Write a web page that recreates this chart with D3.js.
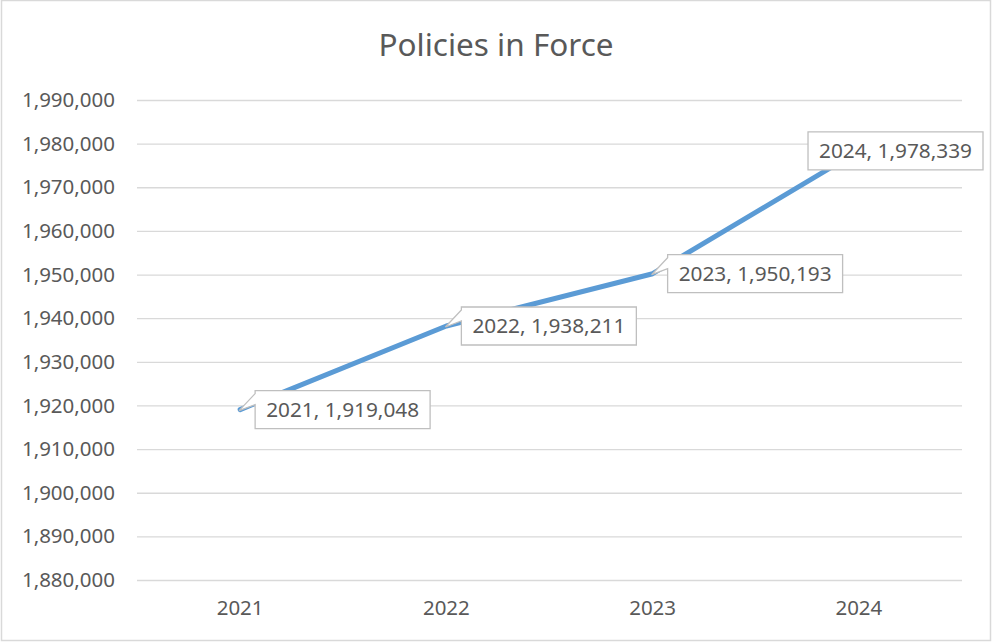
<!DOCTYPE html>
<html>
<head>
<meta charset="utf-8">
<script src="https://cdn.jsdelivr.net/npm/d3@7"></script>
<style>
  body { margin: 0; background: #fff; }
  text { font-family: "Noto Sans", "Open Sans", sans-serif; fill: #595959; }
</style>
</head>
<body>
<script>
let years = ["2021", "2022", "2023", "2024"];
let policies = [1919048, 1938211, 1950193, 1978339];
let yTicks = [1880000, 1890000, 1900000, 1910000, 1920000, 1930000,
              1940000, 1950000, 1960000, 1970000, 1980000, 1990000];

let width = 992,
    height = 642;

let svg = d3.select("body").append("svg")
    .attr("width", width)
    .attr("height", height);

// chart area border
svg.append("rect")
    .attr("x", 1.5).attr("y", 0.5)
    .attr("width", width - 3).attr("height", height - 2)
    .attr("fill", "#fff")
    .attr("stroke", "#d9d9d9")
    .attr("stroke-width", 1.5);

let xScale = d3.scaleBand()
    .domain(years)
    .range([137, 962]);

let yScale = d3.scaleLinear()
    .domain([1880000, 1990000])
    .range([580, 100]);

let fmt = d3.format(",");

// title
svg.append("text")
    .attr("x", 496).attr("y", 56)
    .attr("text-anchor", "middle")
    .style("font-size", "31.5px")
    .text("Policies in Force");

// gridlines + y axis
let yAxis = d3.axisLeft(yScale)
    .tickValues(yTicks)
    .tickFormat(fmt)
    .tickSize(-(962 - 137))
    .tickPadding(22);

let gy = svg.append("g")
    .attr("transform", "translate(137,0)")
    .call(yAxis);
gy.select(".domain").remove();
gy.selectAll("line").attr("stroke", "#d9d9d9").attr("stroke-width", 1.3);
gy.selectAll("text")
    .style("font-size", "20.5px")
    .style("font-family", "'Noto Sans', sans-serif")
    .attr("fill", "#595959");

// x axis
let xAxis = d3.axisBottom(xScale).tickSize(0).tickPadding(20);
let gx = svg.append("g")
    .attr("transform", "translate(0,580)")
    .call(xAxis);
gx.select(".domain").remove();
gx.selectAll("text")
    .style("font-size", "20.5px")
    .style("font-family", "'Noto Sans', sans-serif")
    .attr("fill", "#595959");

// line
let points = years.map((y, i) => [xScale(y) + xScale.bandwidth() / 2, yScale(policies[i])]);

svg.append("path")
    .datum(points)
    .attr("d", d3.line())
    .attr("fill", "none")
    .attr("stroke", "#5b9bd5")
    .attr("stroke-width", 5)
    .attr("stroke-linecap", "round")
    .attr("stroke-linejoin", "round");

// data label callouts
let labels = svg.append("g");
points.forEach((p, i) => {
  let g = labels.append("g");
  let t = g.append("text")
      .attr("text-anchor", "middle")
      .style("font-size", "20.8px")
      .text(years[i] + ", " + fmt(policies[i]));
  let w = t.node().getComputedTextLength() + 22,
      h = 38;
  let left = Math.min(p[0] + 15, width - 9 - w),
      top = p[1] - 19;
  let path;
  if (left > p[0]) {
    path = "M" + left + "," + top +
           "L" + (left + w) + "," + top +
           "L" + (left + w) + "," + (top + h) +
           "L" + left + "," + (top + h) +
           "L" + left + "," + (top + 14) +
           "L" + (p[0] - 1) + "," + (p[1] + 1) +
           "L" + left + "," + (top + 3) + "Z";
  } else {
    path = "M" + left + "," + top + "h" + w + "v" + h + "h" + (-w) + "Z";
  }
  g.insert("path", "text")
      .attr("d", path)
      .attr("fill", "#fff")
      .attr("stroke", "#bfbfbf")
      .attr("stroke-width", 1.3);
  t.attr("x", left + w / 2).attr("y", top + h / 2 + 7);
});
</script>
</body>
</html>
